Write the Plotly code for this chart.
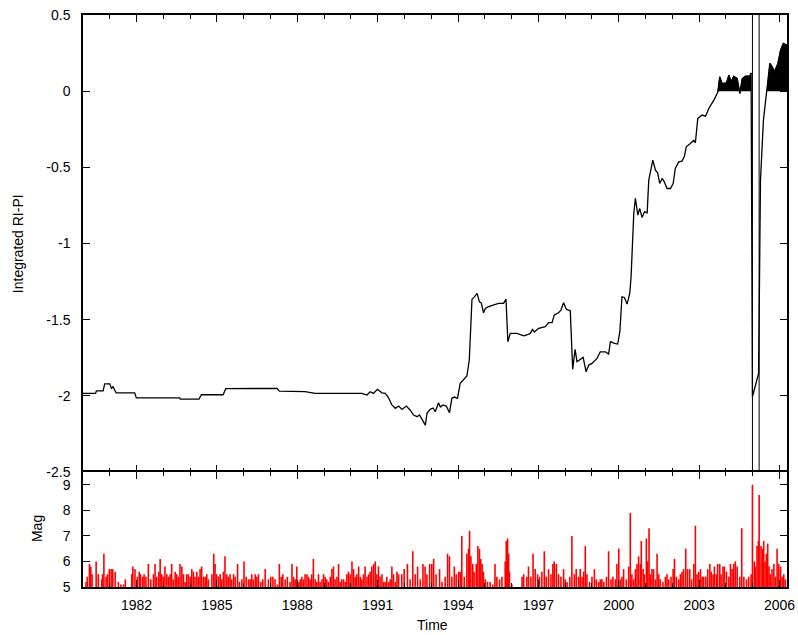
import plotly.graph_objects as go

# Integrated RI-PI score through time
ri_years = [
    1980.00, 1980.47, 1980.50, 1980.75, 1980.81, 1981.00, 1981.06, 1981.12, 1981.20, 1981.24,
    1981.93, 1981.99, 1983.61, 1983.63, 1984.33, 1984.42, 1985.23, 1985.33, 1987.24, 1987.33,
    1988.29, 1988.67, 1990.41, 1990.60, 1990.72, 1990.84, 1990.99, 1991.16, 1991.28, 1991.39,
    1991.53, 1991.66, 1991.78, 1991.91, 1992.07, 1992.21, 1992.34, 1992.47, 1992.56, 1992.66,
    1992.78, 1992.84, 1992.96, 1993.07, 1993.15, 1993.27, 1993.34, 1993.44, 1993.56, 1993.68,
    1993.77, 1993.86, 1993.98, 1994.08, 1994.21, 1994.33, 1994.42, 1994.52, 1994.61, 1994.71,
    1994.80, 1994.87, 1994.95, 1995.02, 1995.14, 1995.33, 1995.51, 1995.70, 1995.79, 1995.86,
    1995.95, 1996.20, 1996.45, 1996.59, 1996.70, 1996.78, 1996.85, 1997.01, 1997.26, 1997.38,
    1997.51, 1997.59, 1997.75, 1997.84, 1997.94, 1998.04, 1998.19, 1998.28, 1998.37, 1998.44,
    1998.54, 1998.67, 1998.78, 1998.88, 1999.00, 1999.19, 1999.31, 1999.50, 1999.62, 1999.69,
    1999.84, 1999.96, 2000.04, 2000.12, 2000.21, 2000.31, 2000.41, 2000.46, 2000.56, 2000.62,
    2000.71, 2000.78, 2000.87, 2000.96, 2001.06, 2001.12, 2001.27, 2001.37, 2001.45, 2001.53,
    2001.62, 2001.70, 2001.80, 2001.93, 2002.03, 2002.11, 2002.24, 2002.36, 2002.45, 2002.52,
    2002.67, 2002.80, 2002.86, 2002.95, 2003.11, 2003.24, 2003.36, 2003.55, 2003.70, 2003.77,
    2003.86, 2004.02, 2004.11, 2004.20, 2004.29, 2004.42, 2004.52, 2004.61, 2004.73, 2004.89,
    2004.94, 2004.99, 2005.22, 2005.29, 2005.40, 2005.54, 2005.64, 2005.73, 2005.81, 2005.94,
    2006.04, 2006.14, 2006.28,
]
ri_values = [
    -1.984, -1.984, -1.967, -1.967, -1.921, -1.921, -1.951, -1.940, -1.968, -1.980,
    -1.980, -2.014, -2.014, -2.021, -2.021, -1.993, -1.993, -1.953, -1.951, -1.969,
    -1.973, -1.984, -1.984, -1.995, -1.973, -1.984, -1.957, -1.980, -1.984, -2.008,
    -2.060, -2.082, -2.067, -2.089, -2.067, -2.093, -2.126, -2.137, -2.126, -2.159,
    -2.192, -2.115, -2.089, -2.080, -2.104, -2.045, -2.073, -2.060, -2.067, -2.110,
    -2.016, -2.008, -2.016, -1.918, -1.892, -1.870, -1.765, -1.367, -1.350, -1.327,
    -1.383, -1.391, -1.455, -1.426, -1.415, -1.404, -1.393, -1.393, -1.365, -1.645,
    -1.590, -1.590, -1.606, -1.599, -1.590, -1.564, -1.581, -1.557, -1.546, -1.520,
    -1.520, -1.470, -1.455, -1.437, -1.389, -1.432, -1.442, -1.826, -1.695, -1.776,
    -1.765, -1.748, -1.842, -1.798, -1.787, -1.754, -1.711, -1.711, -1.726, -1.645,
    -1.656, -1.660, -1.579, -1.350, -1.354, -1.398, -1.327, -1.218, -0.803, -0.704,
    -0.814, -0.770, -0.829, -0.792, -0.798, -0.584, -0.453, -0.518, -0.536, -0.606,
    -0.573, -0.595, -0.639, -0.639, -0.606, -0.507, -0.464, -0.459, -0.427, -0.365,
    -0.343, -0.322, -0.339, -0.179, -0.157, -0.164, -0.114, -0.059, -0.005, 0.094,
    0.050, 0.054, 0.105, 0.061, 0.098, 0.083, -0.015, 0.083, 0.098, 0.098,
    0.120, -2.006, -1.853, -0.584, -0.190, 0.007, 0.182, 0.160, 0.127, 0.182,
    0.269, 0.313, 0.302,
]

# Earthquakes with magnitude >= 5
eq_years = [
    1980.11, 1980.16, 1980.24, 1980.29, 1980.34, 1980.49, 1980.57, 1980.70, 1980.73, 1980.78,
    1980.86, 1980.91, 1980.98, 1981.05, 1981.11, 1981.20, 1981.32, 1981.41, 1981.51, 1981.58,
    1981.82, 1981.86, 1981.94, 1982.03, 1982.10, 1982.15, 1982.23, 1982.28, 1982.35, 1982.44,
    1982.53, 1982.63, 1982.69, 1982.75, 1982.83, 1982.88, 1982.94, 1983.00, 1983.06, 1983.13,
    1983.19, 1983.25, 1983.31, 1983.37, 1983.44, 1983.50, 1983.56, 1983.62, 1983.69, 1983.75,
    1983.81, 1983.87, 1983.93, 1984.00, 1984.06, 1984.12, 1984.18, 1984.25, 1984.31, 1984.37,
    1984.43, 1984.50, 1984.56, 1984.62, 1984.68, 1984.81, 1984.88, 1984.93, 1984.99, 1985.06,
    1985.12, 1985.18, 1985.24, 1985.30, 1985.37, 1985.43, 1985.49, 1985.55, 1985.62, 1985.68,
    1985.77, 1985.84, 1985.93, 1986.01, 1986.09, 1986.18, 1986.24, 1986.30, 1986.36, 1986.43,
    1986.49, 1986.55, 1986.64, 1986.71, 1986.80, 1986.92, 1987.01, 1987.09, 1987.17, 1987.26,
    1987.33, 1987.40, 1987.46, 1987.55, 1987.63, 1987.73, 1987.80, 1987.86, 1987.92, 1987.98,
    1988.06, 1988.11, 1988.17, 1988.23, 1988.29, 1988.36, 1988.42, 1988.48, 1988.54, 1988.60,
    1988.67, 1988.73, 1988.79, 1988.85, 1988.92, 1988.98, 1989.04, 1989.10, 1989.16, 1989.23,
    1989.29, 1989.35, 1989.41, 1989.48, 1989.54, 1989.60, 1989.66, 1989.73, 1989.79, 1989.85,
    1989.91, 1989.97, 1990.04, 1990.10, 1990.16, 1990.22, 1990.29, 1990.35, 1990.41, 1990.47,
    1990.53, 1990.60, 1990.66, 1990.72, 1990.78, 1990.85, 1990.91, 1990.97, 1991.03, 1991.09,
    1991.16, 1991.22, 1991.28, 1991.34, 1991.41, 1991.47, 1991.53, 1991.59, 1991.66, 1991.72,
    1991.78, 1991.90, 1991.99, 1992.11, 1992.21, 1992.31, 1992.40, 1992.49, 1992.59, 1992.69,
    1992.77, 1992.84, 1992.94, 1993.02, 1993.09, 1993.18, 1993.31, 1993.40, 1993.52, 1993.61,
    1993.68, 1993.77, 1993.86, 1993.93, 1994.02, 1994.08, 1994.14, 1994.23, 1994.33, 1994.39,
    1994.43, 1994.48, 1994.55, 1994.60, 1994.68, 1994.74, 1994.80, 1994.85, 1994.90, 1994.95,
    1995.02, 1995.10, 1995.20, 1995.30, 1995.38, 1995.45, 1995.55, 1995.64, 1995.76, 1995.80,
    1995.85, 1995.89, 1995.92, 1996.01, 1996.39, 1996.45, 1996.57, 1996.63, 1996.72, 1996.80,
    1996.88, 1996.97, 1997.04, 1997.13, 1997.22, 1997.29, 1997.38, 1997.47, 1997.54, 1997.59,
    1997.67, 1997.75, 1997.84, 1997.94, 1998.00, 1998.07, 1998.17, 1998.25, 1998.34, 1998.41,
    1998.50, 1998.56, 1998.63, 1998.69, 1998.75, 1998.81, 1998.91, 1999.00, 1999.09, 1999.16,
    1999.25, 1999.31, 1999.37, 1999.44, 1999.54, 1999.62, 1999.71, 1999.78, 1999.87, 1999.93,
    2000.00, 2000.06, 2000.12, 2000.18, 2000.28, 2000.37, 2000.43, 2000.49, 2000.56, 2000.62,
    2000.68, 2000.74, 2000.81, 2000.84, 2000.91, 2000.95, 2001.03, 2001.08, 2001.13, 2001.18,
    2001.24, 2001.30, 2001.37, 2001.43, 2001.49, 2001.55, 2001.65, 2001.74, 2001.80, 2001.86,
    2001.95, 2002.03, 2002.08, 2002.15, 2002.24, 2002.30, 2002.36, 2002.42, 2002.50, 2002.57,
    2002.65, 2002.72, 2002.80, 2002.86, 2002.92, 2002.98, 2003.05, 2003.11, 2003.17, 2003.25,
    2003.32, 2003.40, 2003.45, 2003.52, 2003.57, 2003.64, 2003.69, 2003.77, 2003.82, 2003.89,
    2003.94, 2004.02, 2004.11, 2004.17, 2004.23, 2004.29, 2004.35, 2004.42, 2004.52, 2004.59,
    2004.67, 2004.77, 2004.85, 2004.94, 2004.99, 2005.06, 2005.10, 2005.16, 2005.21, 2005.24,
    2005.31, 2005.36, 2005.41, 2005.46, 2005.51, 2005.56, 2005.61, 2005.66, 2005.72, 2005.79,
    2005.85, 2005.91, 2005.97, 2006.04, 2006.10, 2006.16, 2006.22,
]
eq_mags = [
    5.2, 5.4, 5.9, 5.8, 5.5, 6.0, 5.5, 5.3, 5.5, 6.3,
    5.4, 5.5, 5.7, 5.7, 5.7, 5.6, 5.2, 5.1, 5.1, 5.3,
    5.5, 5.8, 5.7, 5.4, 5.6, 5.5, 5.4, 5.5, 5.4, 5.9,
    5.3, 5.5, 5.9, 5.4, 5.6, 6.1, 5.5, 5.4, 5.8, 5.5,
    5.4, 5.5, 5.9, 5.3, 5.6, 5.5, 5.4, 5.9, 5.8, 5.5,
    5.2, 5.5, 5.5, 5.4, 5.7, 5.6, 5.4, 5.6, 5.4, 5.7,
    5.8, 5.4, 5.4, 5.5, 5.3, 5.5, 6.3, 5.9, 5.5, 5.4,
    5.5, 5.3, 5.6, 6.2, 5.5, 5.4, 5.5, 5.3, 5.5, 5.4,
    5.9, 5.2, 5.3, 6.0, 5.4, 5.3, 5.3, 5.5, 5.3, 5.5,
    5.4, 5.5, 5.2, 5.3, 5.7, 5.3, 5.4, 5.4, 5.3, 5.1,
    5.9, 5.4, 5.5, 5.3, 5.4, 5.2, 5.9, 5.4, 5.3, 5.8,
    5.2, 5.3, 5.4, 5.3, 5.5, 5.5, 5.4, 5.3, 5.5, 6.1,
    5.3, 5.2, 5.5, 5.2, 5.3, 5.5, 5.4, 5.3, 5.2, 5.4,
    5.7, 5.8, 5.3, 5.4, 5.9, 5.2, 5.3, 5.3, 5.2, 5.5,
    5.6, 5.5, 6.0, 5.7, 5.4, 5.5, 5.8, 5.4, 5.3, 5.5,
    5.8, 5.4, 5.5, 5.6, 5.8, 5.9, 6.0, 5.5, 5.8, 5.4,
    5.5, 5.2, 5.2, 5.4, 5.2, 5.3, 5.8, 5.5, 5.2, 5.6,
    5.5, 5.5, 5.7, 5.9, 5.3, 6.4, 5.5, 5.8, 5.3, 5.9,
    5.8, 5.5, 5.9, 5.9, 6.1, 5.5, 5.7, 5.2, 5.4, 6.3,
    6.2, 5.4, 5.8, 5.5, 5.6, 5.6, 7.0, 5.4, 6.3, 6.5,
    7.2, 6.2, 5.9, 5.6, 5.9, 6.6, 6.5, 6.1, 5.9, 5.6,
    5.3, 5.2, 5.2, 5.1, 5.9, 5.4, 5.3, 5.4, 6.0, 6.8,
    6.9, 6.3, 5.6, 5.1, 5.4, 5.5, 5.4, 5.8, 5.4, 6.3,
    5.7, 5.5, 5.4, 5.6, 6.4, 5.4, 5.7, 5.5, 5.9, 6.0,
    5.9, 5.5, 5.4, 5.7, 5.3, 5.2, 5.4, 7.0, 5.5, 5.7,
    5.4, 5.7, 5.4, 5.6, 6.6, 5.5, 5.2, 5.4, 5.7, 5.3,
    5.2, 5.3, 5.3, 5.2, 5.4, 6.4, 5.3, 5.4, 5.3, 5.9,
    6.5, 5.3, 5.4, 5.7, 5.3, 5.8, 7.9, 5.5, 5.3, 5.7,
    5.9, 6.2, 5.9, 6.8, 5.7, 5.5, 6.9, 6.0, 7.3, 5.5,
    5.7, 5.7, 5.3, 6.3, 5.5, 5.3, 5.2, 5.4, 5.5, 5.3,
    5.4, 5.7, 6.1, 5.4, 5.3, 5.5, 5.6, 5.7, 6.5, 5.7,
    5.7, 5.3, 5.9, 7.4, 5.5, 5.6, 5.7, 5.4, 5.4, 5.4,
    5.7, 5.9, 5.6, 5.5, 5.8, 5.5, 5.9, 5.9, 5.5, 5.8,
    5.8, 5.6, 5.4, 5.9, 5.7, 5.9, 6.0, 5.8, 5.4, 7.3,
    5.4, 5.3, 5.4, 5.5, 9.0, 6.0, 5.8, 6.6, 6.8, 8.6,
    6.6, 6.5, 6.8, 6.0, 6.3, 6.7, 5.8, 5.5, 5.7, 5.9,
    5.4, 6.5, 5.9, 5.8, 5.4, 5.5, 5.3,
]

# Great earthquakes marked across the score panel
marked_years = [2004.99, 2005.24]

x_range = [1980.0, 2006.28]
mag_floor = 5.0

score_ticks = [0.5, 0, -0.5, -1, -1.5, -2, -2.5]
mag_ticks = [5, 6, 7, 8, 9]
year_ticks = list(range(1982, 2007, 3))

FONT = "Liberation Sans, Arial, sans-serif"

fig = go.Figure()

# Positive excursions of the score are shaded black down to zero
fill_windows = [(2003.70, 2004.94), (2005.54, 2006.28)]
for lo, hi in fill_windows:
    seg = [(t, v) for t, v in zip(ri_years, ri_values) if lo <= t <= hi]
    fig.add_trace(go.Scatter(
        x=[p[0] for p in seg], y=[p[1] for p in seg],
        mode="lines", fill="tozeroy", fillcolor="black",
        line=dict(color="black", width=1), xaxis="x", yaxis="y",
        showlegend=False, hoverinfo="skip",
    ))

fig.add_trace(go.Scatter(
    x=ri_years, y=ri_values, mode="lines",
    line=dict(color="black", width=1.3),
    xaxis="x", yaxis="y", showlegend=False,
))

# Magnitude impulses rising from the axis floor
spike_x, spike_y = [], []
for t, m in zip(eq_years, eq_mags):
    spike_x += [t, t, None]
    spike_y += [mag_floor, m, None]
fig.add_trace(go.Scatter(
    x=spike_x, y=spike_y, mode="lines",
    line=dict(color="#ff0000", width=1.6),
    xaxis="x2", yaxis="y2", showlegend=False,
))

# Invisible trace so the tick-only axis along the panel seam is built
fig.add_trace(go.Scatter(
    x=[x_range[0]], y=[0], mode="markers", marker=dict(opacity=0),
    xaxis="x3", yaxis="y", showlegend=False, hoverinfo="skip",
))

shapes = [
    dict(type="line", xref="x", yref="y domain", x0=t, x1=t, y0=0, y1=1,
         line=dict(color="black", width=1))
    for t in marked_years
]

split = 115 / 572

tick_style = dict(
    range=x_range, tick0=1982, dtick=3, ticks="inside", ticklen=7,
    tickwidth=1, tickcolor="black", showgrid=False, zeroline=False,
    automargin=False,
    minor=dict(dtick=1, tick0=1980, ticks="inside", ticklen=4,
               tickcolor="black", tickwidth=1, showgrid=False),
)

common_y = dict(
    ticks="inside", ticklen=7, tickcolor="black", showline=True,
    linecolor="black", linewidth=1.5, mirror="ticks",
    showgrid=False, zeroline=False, ticklabelstandoff=8, automargin=False,
)

fig.update_layout(
    width=798, height=635,
    margin=dict(l=83, r=11, t=15, b=48, autoexpand=False),
    paper_bgcolor="white", plot_bgcolor="white",
    font=dict(family=FONT, size=14, color="black"),
    shapes=shapes,
    # upper panel: frame line and ticks along the top edge
    xaxis=dict(domain=[0, 1], anchor="y", side="top", showticklabels=False,
               showline=True, linecolor="black", linewidth=1.5, mirror=False,
               **tick_style),
    # upper panel: ticks only along the seam between the panels
    xaxis3=dict(anchor="y", overlaying="x", side="bottom", matches="x",
                showticklabels=False, showline=False, **tick_style),
    # lower panel: labelled time axis, framed top and bottom
    xaxis2=dict(domain=[0, 1], anchor="y2", matches="x", showticklabels=True,
                tickvals=year_ticks, ticktext=[str(y) for y in year_ticks],
                ticklabelstandoff=4, showline=True, linecolor="black",
                linewidth=1.5, mirror="ticks", **tick_style),
    yaxis=dict(domain=[split, 1], anchor="x", range=[-2.5, 0.5],
               tickvals=score_ticks,
               ticktext=["%g" % v for v in score_ticks], **common_y),
    yaxis2=dict(domain=[0, split], anchor="x2", range=[5, 9.5],
                tickvals=mag_ticks, ticktext=[str(v) for v in mag_ticks],
                **common_y),
    annotations=[
        dict(text="Integrated RI-PI", xref="paper", yref="paper",
             x=-0.0924, y=0.601, textangle=-90, showarrow=False,
             xanchor="center", yanchor="middle", font=dict(size=14)),
        dict(text="Mag", xref="paper", yref="paper",
             x=-0.0654, y=0.103, textangle=-90, showarrow=False,
             xanchor="center", yanchor="middle", font=dict(size=14)),
        dict(text="Time", xref="paper", yref="paper",
             x=0.497, y=-0.066, showarrow=False,
             xanchor="center", yanchor="middle", font=dict(size=14)),
    ],
)

fig.write_html("out.html")
